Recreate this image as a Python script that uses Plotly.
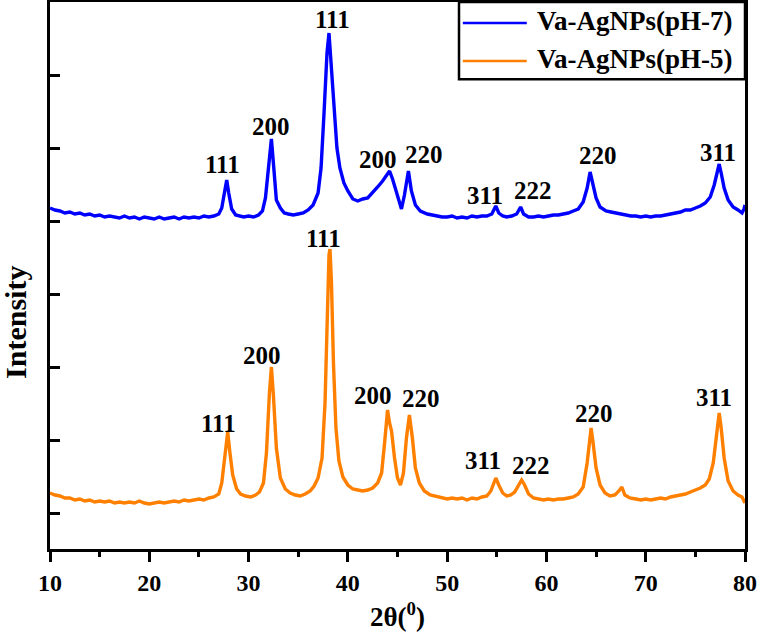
import plotly.graph_objects as go

# 2-theta (degrees) and intensity (a.u.)
x_ph7 = [10, 10.5, 11, 11.5, 12, 12.5, 13, 13.5, 14, 14.5, 15, 15.5, 16, 16.5, 17, 17.5, 18, 18.5, 19, 19.5,
         20, 20.5, 21, 21.5, 22, 22.5, 23, 23.5, 24, 24.5, 25, 25.5, 26, 26.5, 27, 27.3, 27.6, 27.8, 28.0, 28.3,
         28.7, 29, 29.5, 30, 30.5, 31, 31.4, 31.7, 32.0, 32.3, 32.5, 32.8, 33.2, 33.6, 34, 34.5, 35, 35.5, 36, 36.5,
         37.0, 37.3, 37.6, 37.9, 38.1, 38.3, 38.6, 38.9, 39.2, 39.6, 40.0, 40.5, 41, 41.5, 42, 42.5, 43, 43.5, 44.0, 44.2,
         44.5, 45.0, 45.4, 45.7, 46.1, 46.4, 46.8, 47.3, 48, 48.5, 49, 49.5, 50, 50.5, 51, 51.5, 52, 52.5, 53, 53.5,
         54, 54.5, 54.9, 55.2, 55.6, 56, 56.5, 57.0, 57.4, 57.7, 58.2, 58.7, 59.2, 59.7, 60.2, 60.7, 61.2, 61.7, 62.2, 62.7,
         63.2, 63.7, 64.1, 64.4, 64.7, 65.0, 65.4, 66, 66.5, 67, 67.5, 68, 68.5, 69, 69.5, 70, 70.5, 71, 71.5, 72,
         72.5, 73, 73.5, 74, 74.5, 75, 75.5, 76, 76.5, 76.9, 77.2, 77.4, 77.6, 77.9, 78.3, 78.8, 79.3, 79.7, 79.9, 80]
y_ph7 = [305, 303, 302, 300, 301, 299, 300, 298, 299, 297, 298, 296, 297, 296, 295, 297, 295, 296, 294, 296,
         295, 294, 296, 294, 295, 296, 294, 296, 295, 296, 295, 297, 296, 297, 299, 305, 322, 333, 320, 304,
         298, 297, 296, 297, 296, 298, 302, 315, 345, 374, 350, 313, 305, 300, 299, 298, 299, 300, 303, 308,
         320, 345, 400, 460, 480, 450, 400, 365, 345, 330, 322, 314, 312, 314, 315, 320, 326, 332, 340, 342,
         334, 318, 304, 318, 342, 322, 308, 302, 299, 298, 297, 296, 296, 297, 295, 296, 295, 297, 296, 297,
         297, 299, 307, 300, 297, 296, 297, 299, 306, 299, 296, 296, 297, 296, 297, 298, 298, 299, 300, 302,
         304, 311, 325, 341, 328, 315, 306, 302, 301, 300, 299, 298, 297, 297, 296, 297, 296, 297, 297, 298,
         299, 300, 301, 303, 303, 305, 307, 310, 316, 328, 343, 349, 340, 325, 313, 306, 303, 300, 304, 308]

x_ph5 = [10, 10.5, 11, 11.5, 12, 12.5, 13, 13.5, 14, 14.5, 15, 15.5, 16, 16.5, 17, 17.5, 18, 18.5, 19, 19.5,
         20, 20.5, 21, 21.5, 22, 22.5, 23, 23.5, 24, 24.5, 25, 25.5, 26, 26.5, 27, 27.3, 27.6, 27.9, 28.1, 28.4,
         28.8, 29.2, 29.7, 30.2, 30.7, 31.1, 31.5, 31.8, 32.1, 32.3, 32.5, 32.8, 33.2, 33.7, 34.2, 34.7, 35.2, 35.7, 36.2, 36.6,
         37.0, 37.4, 37.7, 37.9, 38.1, 38.2, 38.35, 38.55, 38.8, 39.1, 39.5, 40, 40.5, 41, 41.5, 42, 42.5, 43, 43.4, 43.7,
         43.9, 44.0, 44.2, 44.4, 44.7, 45.0, 45.3, 45.6, 45.9, 46.2, 46.5, 46.8, 47.2, 47.7, 48.3, 49, 49.5, 50, 50.5, 51,
         51.5, 52, 52.5, 53, 53.5, 54, 54.4, 54.7, 54.9, 55.2, 55.6, 56.0, 56.4, 56.8, 57.2, 57.5, 57.8, 58.2, 58.7, 59.2,
         59.7, 60.2, 60.7, 61.2, 61.7, 62.2, 62.7, 63.2, 63.7, 64.1, 64.3, 64.5, 64.7, 65.0, 65.4, 65.9, 66.4, 66.9, 67.3, 67.6,
         67.9, 68.4, 69, 69.5, 70, 70.5, 71, 71.5, 72, 72.5, 73, 73.5, 74, 74.5, 75, 75.5, 76, 76.4, 76.8, 77.1,
         77.3, 77.4, 77.6, 77.9, 78.3, 78.8, 79.3, 79.7, 79.9, 80]
y_ph5 = [20, 18, 17, 15, 15, 13, 14, 12, 13, 11, 12, 11, 12, 10, 11, 10, 11, 10, 12, 10,
         9, 10, 11, 10, 11, 12, 11, 13, 12, 13, 14, 13, 15, 16, 19, 30, 55, 81, 62, 38,
         24, 19, 17, 16, 18, 21, 30, 60, 120, 146, 118, 65, 35, 24, 20, 18, 17, 19, 22, 27,
         35, 55, 110, 200, 258, 264, 230, 150, 85, 52, 36, 28, 24, 23, 22, 23, 25, 30, 40, 70,
         95, 103, 90, 82, 55, 35, 28, 40, 75, 98, 75, 45, 30, 22, 18, 16, 15, 14, 15, 14,
         15, 13, 15, 14, 16, 17, 22, 30, 35, 28, 20, 17, 18, 21, 28, 33, 28, 19, 15, 14,
         13, 14, 13, 14, 14, 15, 16, 19, 26, 50, 70, 85, 70, 45, 28, 20, 17, 18, 22, 26,
         18, 15, 14, 13, 14, 13, 14, 15, 14, 16, 17, 18, 19, 21, 23, 25, 28, 34, 50, 75,
         95, 100, 85, 55, 32, 22, 18, 16, 12, 10]

# peak labels (hkl)
lab_ph7_text = ["111", "200", "111", "200", "220", "311", "222", "220", "311"]
lab_ph7_x = [27.4, 32.3, 38.5, 43.0, 47.7, 53.8, 58.6, 65.2, 77.3]
lab_ph7_y = [349, 387, 494, 354, 359, 318, 323, 358, 361]
lab_ph5_text = ["111", "200", "111", "200", "220", "311", "222", "220", "311"]
lab_ph5_x = [27.0, 31.4, 37.5, 42.5, 47.4, 53.6, 58.4, 64.8, 76.9]
lab_ph5_y = [90, 158, 275, 118, 115, 53, 48, 100, 116]

series_names = ["Va-AgNPs(pH-7)", "Va-AgNPs(pH-5)"]
series_colors = ["#0000FF", "#FF8000"]

FONT = "Liberation Serif"

fig = go.Figure()
fig.add_trace(go.Scatter(x=x_ph7, y=y_ph7, mode="lines", name=series_names[0],
                         line=dict(color=series_colors[0], width=3.4)))
fig.add_trace(go.Scatter(x=x_ph5, y=y_ph5, mode="lines", name=series_names[1],
                         line=dict(color=series_colors[1], width=3.4)))

for t, x, y in zip(lab_ph7_text, lab_ph7_x, lab_ph7_y):
    fig.add_annotation(x=x, y=y, text=t, showarrow=False, xref="x", yref="y",
                       font=dict(family=FONT, size=25, color="black", weight="bold"))
for t, x, y in zip(lab_ph5_text, lab_ph5_x, lab_ph5_y):
    fig.add_annotation(x=x, y=y, text=t, showarrow=False, xref="x", yref="y",
                       font=dict(family=FONT, size=25, color="black", weight="bold"))

# legend box drawn in the top-right corner of the plot
fig.add_shape(type="rect", xref="paper", yref="paper", x0=0.5885, x1=1.0, y0=0.859, y1=1.0,
              line=dict(color="black", width=2.5), fillcolor="white", layer="above")
for i, (nm, col) in enumerate(zip(series_names, series_colors)):
    yy = [0.9616, 0.892][i]
    fig.add_shape(type="line", xref="paper", yref="paper", x0=0.594, x1=0.686, y0=yy, y1=yy,
                  line=dict(color=col, width=2.5), layer="above")
    fig.add_annotation(x=0.698, y=yy + 0.004, xref="paper", yref="paper", text=nm,
                       showarrow=False, xanchor="left", yanchor="middle",
                       font=dict(family=FONT, size=27, color="black", weight="bold"))

# y-axis title (sits below the vertical centre in the original)
fig.add_annotation(x=-0.049, y=0.415, xref="paper", yref="paper", text="Intensity",
                   textangle=-90, showarrow=False, xanchor="center", yanchor="middle",
                   font=dict(family=FONT, size=30, color="black", weight="bold"))

fig.update_layout(
    width=757, height=634,
    margin=dict(l=50, r=12, t=2, b=85, autoexpand=False),
    plot_bgcolor="white", paper_bgcolor="white",
    font=dict(family=FONT, color="black"),
    showlegend=False,
)
fig.update_xaxes(range=[10, 80], tickvals=[10, 20, 30, 40, 50, 60, 70, 80],
                 automargin=False,
                 ticks="outside", ticklen=10, tickwidth=3, tickcolor="black",
                 minor=dict(ticks="outside", ticklen=5, tickwidth=3, tickcolor="black", dtick=5, tick0=10),
                 showline=True, linewidth=3, linecolor="black", mirror=True,
                 showgrid=False, zeroline=False,
                 tickfont=dict(family=FONT, size=24, color="black", weight="bold"),
                 title=dict(text="2θ(<sup>0</sup>)", standoff=13,
                            font=dict(family=FONT, size=27, color="black", weight="bold")))
fig.update_yaxes(range=[-36, 511], tickvals=[0, 73, 146, 219, 292, 365, 438],
                 automargin=False,
                 ticks="inside", ticklen=10, tickwidth=3, tickcolor="black",
                 showticklabels=False,
                 showline=True, linewidth=3, linecolor="black", mirror=True,
                 showgrid=False, zeroline=False)

fig.write_html("out.html", config={"displayModeBar": False},
               post_script="document.body.style.margin='0';document.body.style.overflow='hidden';")
